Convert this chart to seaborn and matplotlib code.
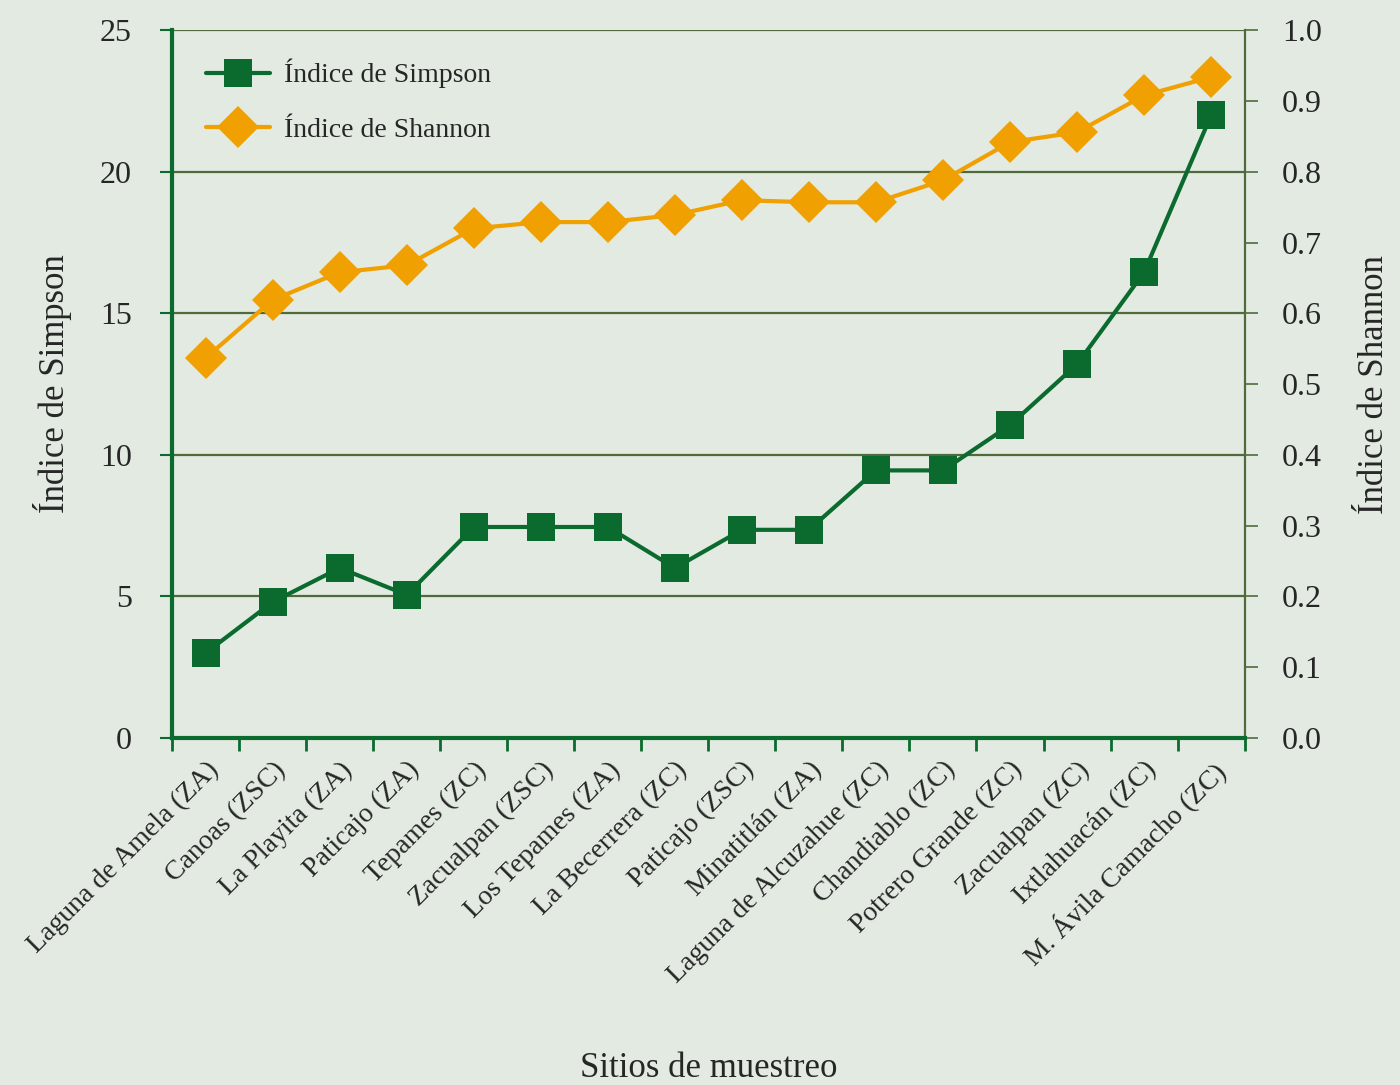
import numpy as np
import pandas as pd
import matplotlib
matplotlib.use('Agg')
import matplotlib.pyplot as plt
import seaborn as sns

# data
sitios = ['Laguna de Amela (ZA)', 'Canoas (ZSC)', 'La Playita (ZA)', 'Paticajo (ZA)',
          'Tepames (ZC)', 'Zacualpan (ZSC)', 'Los Tepames (ZA)', 'La Becerrera (ZC)',
          'Paticajo (ZSC)', 'Minatitlán (ZA)', 'Laguna de Alcuzahue (ZC)', 'Chandiablo (ZC)',
          'Potrero Grande (ZC)', 'Zacualpan (ZC)', 'Ixtlahuacán (ZC)', 'M. Ávila Camacho (ZC)']
simpson = [3.0, 4.8, 6.0, 5.05, 7.45, 7.45, 7.45, 6.0, 7.35, 7.35, 9.45, 9.45, 11.05, 13.2, 16.45, 22.0]
shannon = [0.537, 0.619, 0.658, 0.668, 0.72, 0.729, 0.729, 0.739, 0.76, 0.757, 0.757, 0.788, 0.842, 0.856, 0.908, 0.934]

bg = '#e2eae2'
green = '#0b6b2e'
orange = '#f0a000'
grid_col = '#4f6b3c'

sns.set_style('white')
plt.rcParams['font.family'] = ['Liberation Serif', 'DejaVu Serif']

df = pd.DataFrame({'x': np.arange(len(sitios)), 'simpson': simpson, 'shannon': shannon})

fig = plt.figure(figsize=(14, 10.85), dpi=100, facecolor=bg)
ax = fig.add_axes([0.123, 0.320, 0.766, 0.652])
ax.set_facecolor(bg)
ax2 = ax.twinx()

sns.lineplot(data=df, x='x', y='simpson', ax=ax, color=green, marker='s', markersize=20,
             markeredgewidth=0, linewidth=3, label='Índice de Simpson', legend=False, zorder=4)
sns.lineplot(data=df, x='x', y='shannon', ax=ax2, color=orange, marker='D', markersize=21,
             markeredgewidth=0, linewidth=3, label='Índice de Shannon', legend=False, zorder=3)

# simpson above shannon
ax.set_zorder(ax2.get_zorder() + 1)
ax.patch.set_visible(False)
ax2.patch.set_visible(True)
ax2.patch.set_facecolor(bg)

ax.set_xlim(-0.5, len(sitios) - 0.5)
ax.set_ylim(0, 25)
ax2.set_ylim(0, 1.0)
ax.set_yticks([0, 5, 10, 15, 20, 25])
ax2.set_yticks(np.arange(0, 1.01, 0.1))
ax2.set_yticklabels([f'{v:.1f}' for v in np.arange(0, 1.01, 0.1)])

for y in [5, 10, 15, 20, 25]:
    ax2.axhline(y / 25, color=grid_col, linewidth=1.6, zorder=1)

ax.set_xticks(np.arange(len(sitios)))
ax.set_xticklabels(sitios, rotation=45, ha='right', rotation_mode='anchor', fontsize=20)
ax.set_xticks(np.arange(-0.5, len(sitios)), minor=True)
ax.tick_params(axis='x', which='major', bottom=False, length=0, pad=14)
ax.tick_params(axis='x', which='minor', bottom=True, length=9, width=2, color=green, direction='out')
ax.tick_params(axis='y', left=True, length=9, width=1.5, color=green, labelsize=23, pad=20)
ax2.tick_params(axis='y', right=True, length=9, width=1.2, color=grid_col, labelsize=23, pad=18)
ax2.tick_params(axis='x', bottom=False, length=0)

for a in (ax, ax2):
    a.spines['top'].set_visible(False)
ax.spines['left'].set_color(green)
ax.spines['left'].set_linewidth(3)
ax.spines['bottom'].set_color(green)
ax.spines['bottom'].set_linewidth(3)
ax.spines['right'].set_visible(False)
ax2.spines['left'].set_visible(False)
ax2.spines['bottom'].set_visible(False)
ax2.spines['right'].set_color(grid_col)
ax2.spines['right'].set_linewidth(1.6)

ax.set_ylabel('Índice de Simpson', fontsize=25, labelpad=20)
ax2.set_ylabel('Índice de Shannon', fontsize=25, labelpad=26)
ax.set_xlabel('Sitios de muestreo', fontsize=25, labelpad=46)

h1, l1 = ax.get_legend_handles_labels()
h2, l2 = ax2.get_legend_handles_labels()
ax.legend(h1 + h2, l1 + l2, loc='upper left', frameon=False, fontsize=20,
          handlelength=2.3, handletextpad=0.5, labelspacing=1.05, bbox_to_anchor=(0.008, 0.995))

fig.savefig('out.png', dpi=100, facecolor=bg)
